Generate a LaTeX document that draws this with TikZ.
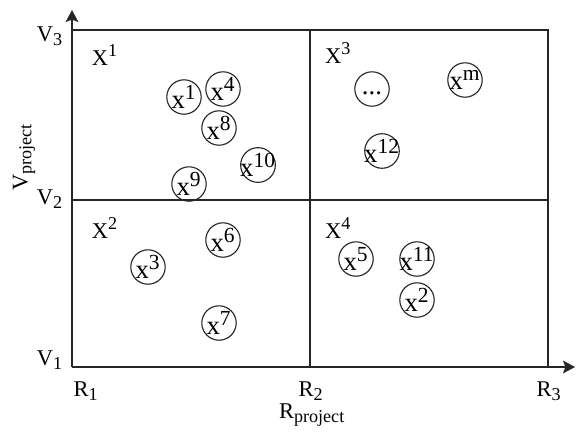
\documentclass[tikz,border=0pt]{standalone}
\usepackage{fontspec}
\setmainfont{Liberation Serif}
\usetikzlibrary{positioning,arrows.meta}
\newcommand{\up}[1]{\textsuperscript{\scalebox{1.15}{#1}}}
\newcommand{\dn}[1]{\textsubscript{\scalebox{1.15}{#1}}}

\begin{document}
\begin{tikzpicture}[
  x=0.025cm, y=-0.025cm,
  >={Stealth[length=3mm, width=3.2mm, inset=0.6mm]},
  line/.style={draw=black!85, line width=0.9pt},
  pt/.style={circle, draw=black!85, line width=0.8pt, minimum size=0.86cm, inner sep=-2pt, font=\fontsize{19}{19}\selectfont},
  lab/.style={font=\fontsize{16}{16}\selectfont},
  quad/.style={font=\fontsize{16}{16}\selectfont},
]
\useasboundingbox (0,0) rectangle (576,435);

% ---- frame and axes ----
\coordinate (O) at (72,367);
\coordinate (Ytop) at (72,10);
\coordinate (Xend) at (575,367);
\coordinate (TL) at (72,30);
\coordinate (TR) at (548,30);
\coordinate (BR) at (548,367);
\coordinate (TM) at (310,30);
\coordinate (BM) at (310,367);
\coordinate (ML) at (72,200);
\coordinate (MR) at (548,200);

\draw[line, ->] (O) -- (Ytop);
\draw[line, ->] (O) -- (Xend);
\draw[line] (TL) -- (TR) -- (BR);
\draw[line] (TM) -- (BM);
\draw[line] (ML) -- (MR);

% ---- tick labels ----
\node[lab] (V3) at (50,36) {V\dn{3}};
\node[lab] (V2) at (50,199) {V\dn{2}};
\node[lab] (V1) at (50,360) {V\dn{1}};
\node[lab] (R1) at (86,391) {R\dn{1}};
\node[lab] (R2) at (311,391) {R\dn{2}};
\node[lab] (R3) at (549,391) {R\dn{3}};
\node[lab, rotate=90] (Vp) at (24,157) {V\dn{project}};
\node[lab] (Rp) at (312,415) {R\dn{project}};

% ---- quadrant names ----
\node[quad] (Q1) at (105,55) {X\up{1}};
\node[quad] (Q2) at (105,228) {X\up{2}};
\node[quad] (Q3) at (338,53) {X\up{3}};
\node[quad] (Q4) at (338,228) {X\up{4}};

% ---- samples ----
\node[pt] (s1) at (184,97) {x\up{1}};
\node[pt] (s4) at (223,89) {x\up{4}};
\node[pt] (s8) at (219,128) {x\up{8}};
\node[pt] (s10) at (258,165) {x\up{10}};
\node[pt] (s9) at (189,184) {x\up{9}};
\node[pt] (sdots) at (372,89) {\vphantom{x}...};
\node[pt] (sm) at (465,80) {x\up{m}};
\node[pt] (s12) at (382,151) {x\up{12}};
\node[pt] (s6) at (223,240) {x\up{6}};
\node[pt] (s3) at (148,267) {x\up{3}};
\node[pt] (s7) at (219,323) {x\up{7}};
\node[pt] (s5) at (356,259) {x\up{5}};
\node[pt] (s11) at (417,259) {x\up{11}};
\node[pt] (s2) at (417,300) {x\up{2}};

\end{tikzpicture}
\end{document}
